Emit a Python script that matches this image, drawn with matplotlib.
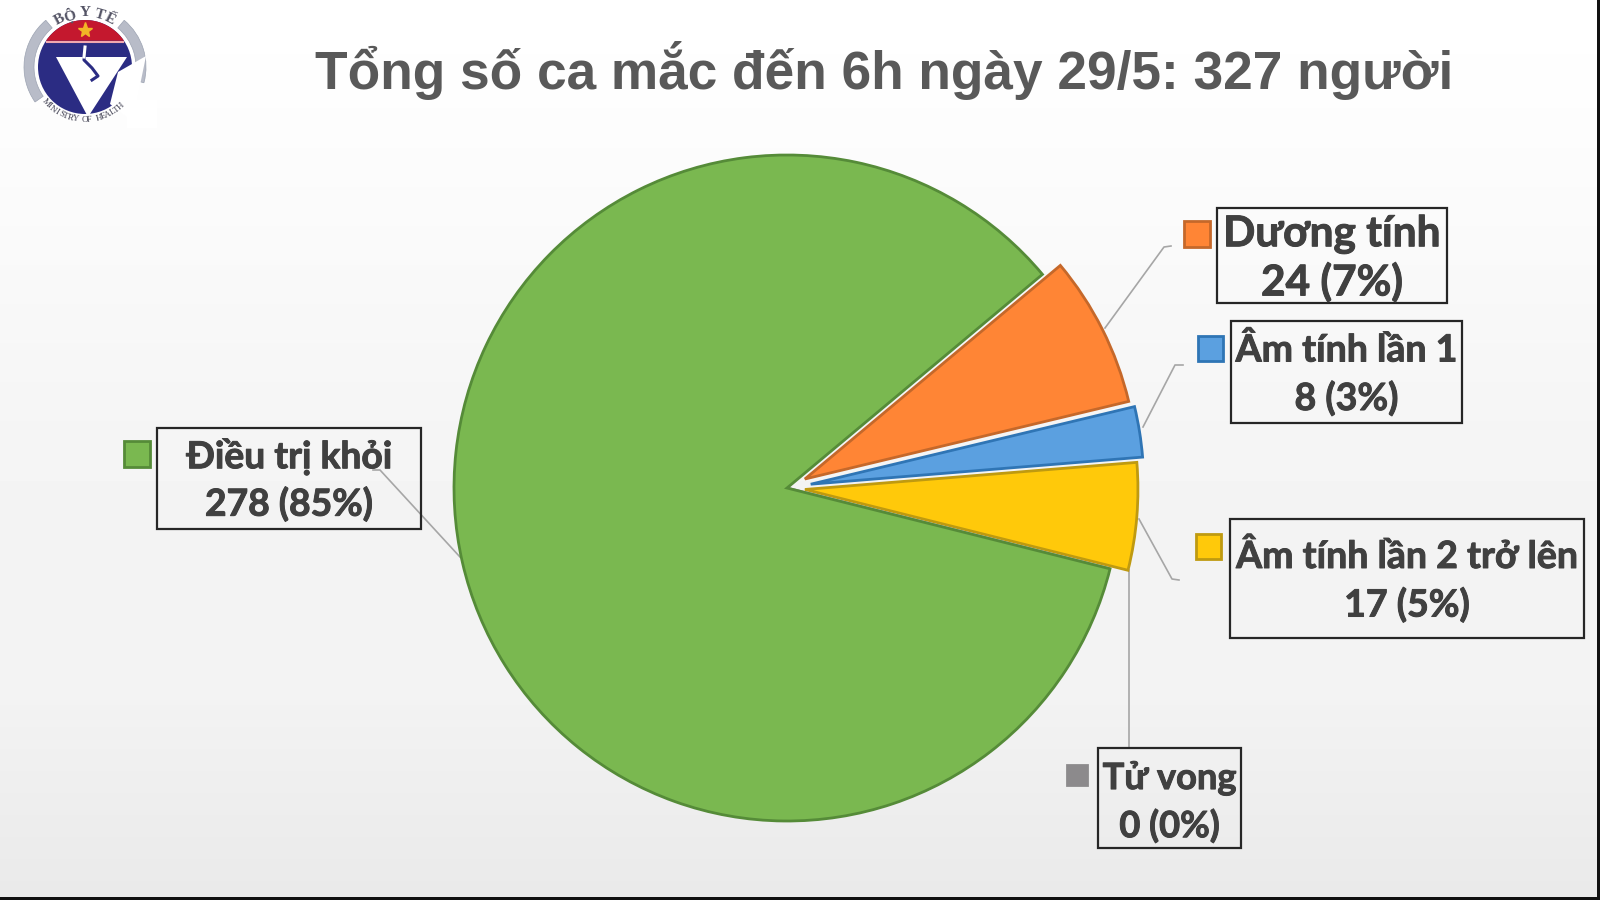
import numpy as np
import matplotlib
matplotlib.use("Agg")
import matplotlib.pyplot as plt
import matplotlib.patheffects as pe
from matplotlib.patches import Rectangle, Circle, Wedge, Polygon

# values
title = "Tổng số ca mắc đến 6h ngày 29/5: 327 người"
categories = ["Dương tính", "Âm tính lần 1", "Âm tính lần 2 trở lên", "Tử vong", "Điều trị khỏi"]
values = [24, 8, 17, 0, 278]
percents = [7, 3, 5, 0, 85]

# styling per category
fills = ["#FF8535", "#5BA0E0", "#FFC90A", "#8C8A8C", "#7AB850"]
edges = ["#C5682A", "#2F75B5", "#BF9A10", "#8C8A8C", "#558B38"]
explode = [20, 24, 18, 0, 0]  # pie takes these in data units
boxes = [(1217, 208, 230, 95), (1231, 321, 231, 102), (1230, 519, 354, 119),
         (1098, 748, 143, 100), (157, 428, 264, 101)]
markers = [(1184, 221), (1198, 336), (1196, 534), (1067, 765), (124, 441)]
marker_sizes = [26, 25, 25, 20, 26]
font_sizes = [30.5, 27, 27, 26.1, 26.8]
text_shifts = [3, 2, 2, 4, 2]
leaders = [[(1105, 328), (1164, 247), (1171, 246)],
           [(1143, 427), (1175, 365), (1183, 365)],
           [(1139, 519), (1172, 579), (1179, 580)],
           [(1129, 570), (1129, 748)],
           [(460, 557), (380, 470), (373, 470)]]

W, H = 1600, 900
PIE_X, PIE_Y, PIE_R = 787, 488, 333
LABEL_FONT = ["Lato", "Open Sans", "DejaVu Sans"]
HEAVY = [pe.withStroke(linewidth=0.7, foreground="#404040")]


def fy(y):
    # picture coordinates have y going down
    return H - y


def draw_logo(ax):
    cx, cy = 85, 67
    for a1, a2 in [(-15, 50), (130, 215)]:
        ax.add_patch(Wedge((cx, fy(cy)), 61, a1, a2, width=10, fc="#B8BCC8", ec="#9CA3B2", lw=0.5, zorder=3))
    ax.add_patch(Circle((cx, fy(cy)), 47, fc="#2B2C83", ec="none", zorder=3))
    # red cap above the chord
    t = np.linspace(np.radians(34), np.radians(146), 40)
    cap = np.c_[cx + 47 * np.cos(t), fy(cy) + 47 * np.sin(t)]
    ax.add_patch(Polygon(cap, fc="#C4182E", ec="none", zorder=4))
    ax.plot([cap[0, 0] - 1, cap[-1, 0] + 1], [cap[0, 1] - 1, cap[-1, 1] - 1], color="#F0A8B0", lw=1.5, zorder=5)
    ax.plot(85, fy(30), marker="*", ms=11, color="#F2B526", zorder=5)
    # white V and the watermark over the right side
    ax.add_patch(Polygon([(56, fy(57)), (127, fy(57)), (88, fy(117))], fc="white", ec="none", zorder=6))
    ax.add_patch(Polygon([(118, fy(72)), (146, fy(56)), (137, fy(100)), (128, fy(118)), (110, fy(104))],
                         fc="white", ec="none", zorder=6))
    ax.plot([85, 84, 92, 98, 92], [fy(47), fy(60), fy(68), fy(76), fy(80)], color="#2B2C83", lw=2.2, zorder=7)
    ax.plot([85, 84], [fy(47), fy(57)], color="white", lw=2.2, zorder=8)
    # curved captions
    for ch, ang in zip("BỘ Y TẾ", [118, 107, 97, 90, 83, 74, 63]):
        a = np.radians(ang)
        ax.text(cx + 54 * np.cos(a), fy(cy) + 54 * np.sin(a), ch, family="Liberation Serif", fontweight="bold",
                fontsize=11, color="#555566", ha="center", va="center", rotation=ang - 90, zorder=7)
    for ch, ang in zip("MINISTRY OF HEALTH", np.linspace(222, 312, 18)):
        a = np.radians(ang)
        ax.text(cx + 53 * np.cos(a), fy(cy) + 53 * np.sin(a), ch, family="Liberation Serif", fontsize=6.5,
                color="#444455", ha="center", va="center", rotation=ang - 270, zorder=7)
    # watermark covers the tail of the lower caption
    ax.add_patch(Rectangle((127, fy(128)), 30, 28, fc="white", ec="none", zorder=8))


fig = plt.figure(figsize=(16, 9), dpi=100, facecolor="white")
ax = fig.add_axes([0, 0, 1, 1])

wedges, _ = ax.pie(values, explode=explode, colors=fills, startangle=39.9, counterclock=False,
                   center=(PIE_X, fy(PIE_Y)), radius=PIE_R, frame=False,
                   wedgeprops={"linewidth": 2, "joinstyle": "miter", "zorder": 3})
for w, ec in zip(wedges, edges):
    w.set_edgecolor(ec)

ax.set_xlim(0, W)
ax.set_ylim(0, H)
ax.set_aspect("auto")
ax.axis("off")

# soft grey page gradient
rows = np.arange(H)
shade = np.interp(rows, [0, 110, 450, 700, 897], [1.0, 0.992, 0.958, 0.95, 0.915])
ax.imshow(shade[:, None], cmap="gray", vmin=0, vmax=1, extent=(0, W, 0, H), origin="upper", aspect="auto", zorder=0)

ax.add_patch(Rectangle((0, 0), W, fy(897), fc="#111111", ec="none", zorder=10))
ax.add_patch(Rectangle((1597, 0), 3, H, fc="#111111", ec="none", zorder=10))

ax.text(884, fy(89), title, family="Liberation Sans", fontweight="bold", fontsize=38.3,
        color="#595959", ha="center", va="baseline", zorder=5)

for name, value, pct, box, mark, ms, fs, shift, line, fill, ec in zip(
        categories, values, percents, boxes, markers, marker_sizes, font_sizes, text_shifts, leaders, fills, edges):
    x, y, w, h = box
    ax.plot([p[0] for p in line], [fy(p[1]) for p in line], color="#A6A6A6", lw=1.2, zorder=2)
    ax.add_patch(Rectangle((x, fy(y + h)), w, h, fc="none", ec="#262626", lw=1.6, zorder=5))
    ax.add_patch(Rectangle((mark[0], fy(mark[1] + ms)), ms, ms, fc=fill, ec=ec, lw=2, zorder=5))
    mid = y + h / 2 + shift
    ax.text(x + w / 2, fy(mid - 24), name, family=LABEL_FONT, fontweight="bold", fontsize=fs, color="#404040",
            ha="center", va="center", zorder=6, path_effects=HEAVY)
    ax.text(x + w / 2, fy(mid + 24), f"{value} ({pct}%)", family=LABEL_FONT, fontweight="bold", fontsize=fs,
            color="#404040", ha="center", va="center", zorder=6, path_effects=HEAVY)

draw_logo(ax)

fig.savefig("out.png", dpi=100)
